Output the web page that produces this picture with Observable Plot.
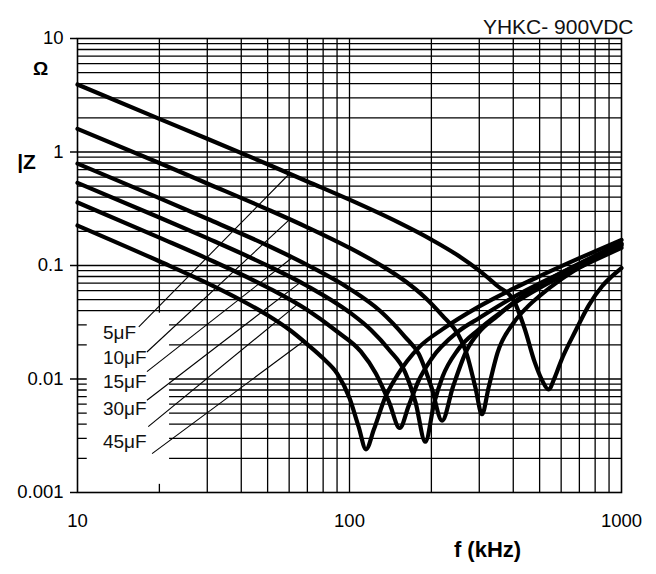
<!DOCTYPE html>
<html><head><meta charset="utf-8">
<script src="https://cdn.jsdelivr.net/npm/d3@7"></script>
<script src="https://cdn.jsdelivr.net/npm/@observablehq/plot@0.6"></script>
<style>
html,body{margin:0;padding:0;background:#fff;}
#chart svg{display:block;}
</style>
</head><body><div id="chart"></div>
<script>
// ---- data ----
const titleText = "YHKC- 900VDC";
const xTicks = [10, 100, 1000];
const xTickLabels = ["10", "100", "1000"];
const yTicks = [10, 1, 0.1, 0.01, 0.001];
const yTickLabels = ["10", "1", "0.1", "0.01", "0.001"];
const gridX = [20, 30, 40, 50, 60, 70, 80, 90, 100, 200, 300, 400, 500, 600, 700, 800, 900];
const gridY = [0.002, 0.003, 0.004, 0.005, 0.006, 0.007, 0.008, 0.009, 0.01,
               0.02, 0.03, 0.04, 0.05, 0.06, 0.07, 0.08, 0.09, 0.1,
               0.2, 0.3, 0.4, 0.5, 0.6, 0.7, 0.8, 0.9, 1,
               2, 3, 4, 5, 6, 7, 8, 9];

// six impedance curves (f in kHz, |Z| in ohm)
const c1F = [10, 20, 30, 50, 70, 100, 150, 200, 250, 300, 350, 400, 440, 480, 510, 539, 570, 600, 680, 760, 850, 920, 1000];
const c1Z = [3.93, 1.96, 1.31, 0.78, 0.55, 0.38, 0.242, 0.169, 0.123, 0.09, 0.066, 0.05, 0.028, 0.014, 0.0098, 0.0081, 0.0105, 0.0145, 0.027, 0.045, 0.066, 0.08, 0.095];
const c2F = [10, 20, 30, 50, 70, 100, 130, 160, 190, 220, 250, 270, 290, 307, 325, 350, 400, 450, 500, 600, 700, 800, 1000];
const c2Z = [1.6, 0.8, 0.528, 0.312, 0.217, 0.143, 0.101, 0.073, 0.052, 0.036, 0.025, 0.0165, 0.0085, 0.0049, 0.0085, 0.017, 0.031, 0.043, 0.054, 0.0755, 0.096, 0.116, 0.154];
const c3F = [10, 20, 30, 50, 70, 100, 130, 160, 180, 200, 219, 240, 270, 300, 350, 400, 500, 600, 800, 1000];
const c3Z = [0.79, 0.392, 0.258, 0.15, 0.101, 0.0625, 0.0395, 0.0235, 0.0165, 0.0085, 0.0043, 0.0085, 0.018, 0.026, 0.036, 0.047, 0.067, 0.086, 0.122, 0.157];
const c4F = [10, 20, 30, 50, 70, 100, 120, 140, 160, 175, 190, 205, 220, 250, 300, 400, 500, 700, 1000];
const c4Z = [0.535, 0.265, 0.174, 0.0996, 0.066, 0.0387, 0.027, 0.018, 0.0115, 0.0062, 0.0028, 0.0062, 0.0105, 0.018, 0.0275, 0.046, 0.0635, 0.096, 0.143];
const c5F = [10, 20, 30, 50, 70, 90, 110, 125, 140, 153, 165, 180, 200, 250, 300, 400, 500, 700, 1000];
const c5Z = [0.359, 0.176, 0.115, 0.064, 0.0405, 0.0262, 0.0175, 0.0112, 0.0062, 0.0037, 0.0058, 0.0098, 0.015, 0.026, 0.0345, 0.0525, 0.0695, 0.102, 0.15];
const c6F = [10, 20, 30, 40, 50, 60, 70, 80, 90, 100, 108, 115, 123, 135, 150, 180, 220, 300, 400, 500, 700, 1000];
const c6Z = [0.225, 0.109, 0.07, 0.0494, 0.0365, 0.0273, 0.0202, 0.0152, 0.0112, 0.0068, 0.0038, 0.0024, 0.0036, 0.0068, 0.0108, 0.019, 0.0275, 0.0437, 0.0625, 0.0805, 0.116, 0.168];

// capacitance labels and their leader lines
const labelText = ["5μF", "10μF", "15μF", "30μF", "45μF"];
const labelX = [12.4, 12.4, 12.4, 12.4, 12.4];
const labelY = [0.0253, 0.0153, 0.0094, 0.0055, 0.0028];
const leadX1 = [16.8, 18.0, 18.0, 18.0, 18.2, 18.8];
const leadY1 = [0.0288, 0.0173, 0.0116, 0.0065, 0.0038, 0.0022];
const leadX2 = [60, 60, 61.5, 66, 64, 67.8];
const leadY2 = [0.64, 0.252, 0.117, 0.071, 0.045, 0.0215];

// blank area behind the labels (grid removed there)
const blankX = [10.86, 21.8];
const blankY = [0.00118, 0.038];

// ---- build tables ----
const curves = [[c1F, c1Z], [c2F, c2Z], [c3F, c3Z], [c4F, c4Z], [c5F, c5Z], [c6F, c6Z]];
const curveRows = curves.flatMap(([F, Z], k) => F.map((f, i) => ({series: k, f, z: Z[i]})));
const labelRows = labelText.map((t, i) => ({t, x: labelX[i], y: labelY[i]}));
const leadRows = leadX1.map((x1, i) => ({x1, y1: leadY1[i], x2: leadX2[i], y2: leadY2[i]}));
const blankRows = [{x1: blankX[0], x2: blankX[1], y1: blankY[0], y2: blankY[1]}];
const xLab = new Map(xTicks.map((t, i) => [t, xTickLabels[i]]));
const yLab = new Map(yTicks.map((t, i) => [t, yTickLabels[i]]));

const font = "'Liberation Sans', Arial, Helvetica, sans-serif";

const chart = Plot.plot({
  width: 656,
  height: 574,
  marginLeft: 77,
  marginRight: 35,
  marginTop: 38,
  marginBottom: 82,
  style: {fontFamily: font, fontSize: "18px", color: "#000", background: "#fff"},
  x: {type: "log", domain: [10, 1000]},
  y: {type: "log", domain: [0.001, 10]},
  marks: [
    Plot.ruleX(gridX, {stroke: "#000", strokeWidth: 1.3}),
    Plot.ruleY(gridY, {stroke: "#000", strokeWidth: 1.3}),
    Plot.rect(blankRows, {x1: "x1", x2: "x2", y1: "y1", y2: "y2", fill: "#fff"}),
    Plot.link(leadRows, {x1: "x1", y1: "y1", x2: "x2", y2: "y2", stroke: "#000", strokeWidth: 1.1}),
    Plot.text(labelRows, {x: "x", y: "y", text: "t", textAnchor: "start", fontSize: 19, fill: "#111"}),
    Plot.line(curveRows, {x: "f", y: "z", z: "series", stroke: "#000", strokeWidth: 4.2, curve: "monotone-x"}),
    Plot.frame({stroke: "#000", strokeWidth: 1.6}),
    Plot.axisY({ticks: yTicks, tickFormat: d => yLab.get(d), tickSize: 7, tickPadding: 7, fontSize: 18.5, stroke: "#000", strokeWidth: 1.5, label: null}),
    Plot.axisX({ticks: xTicks, tickFormat: d => xLab.get(d), tickSize: 0, tickPadding: 21, fontSize: 18.5, label: null}),
    Plot.text([titleText], {frameAnchor: "top-right", dx: 12, dy: -19, textAnchor: "end", fontSize: 21, fill: "#111"}),
    Plot.text(["Ω"], {frameAnchor: "top-left", dx: -37, dy: 23, textAnchor: "middle", fontSize: 19, fontWeight: "bold"}),
    Plot.text(["|Z"], {frameAnchor: "top-left", dx: -51, dy: 116, textAnchor: "middle", fontSize: 21, fontWeight: "bold"}),
    Plot.text(["f (kHz)"], {frameAnchor: "bottom-left", dx: 410, dy: 64, textAnchor: "middle", fontSize: 22, fontWeight: "bold"})
  ]
});
document.getElementById("chart").appendChild(chart);
</script>
</body></html>
